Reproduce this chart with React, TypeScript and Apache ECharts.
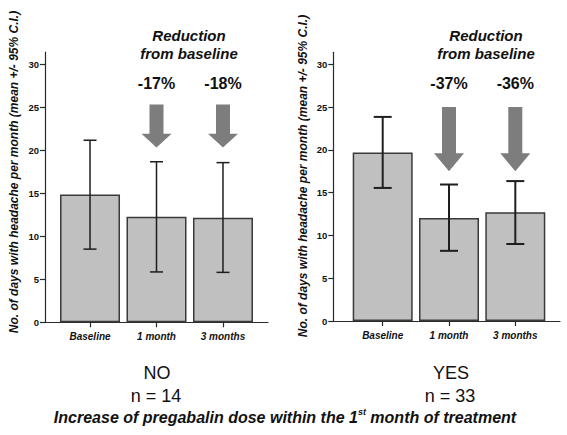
import React, { useEffect, useRef } from "react";
import * as echarts from "echarts";

const categories = ["Baseline", "1 month", "3 months"];
const yTicks = [0, 5, 10, 15, 20, 25, 30];

// Group NO (n = 14)
const meansNo = [14.85, 12.25, 12.15];
const ciLowNo = [8.5, 5.85, 5.8];
const ciHighNo = [21.15, 18.65, 18.55];
const reductionsNo = ["-17%", "-18%"];
// arrows: [category index, shaft top, head base, tip]
const arrowsNo = [
  [1, 25.3, 21.9, 20.3],
  [2, 25.3, 21.9, 20.3],
];

// Group YES (n = 33)
const meansYes = [19.7, 12.05, 12.7];
const ciLowYes = [15.55, 8.2, 9.0];
const ciHighYes = [23.85, 15.95, 16.35];
const reductionsYes = ["-37%", "-36%"];
const arrowsYes = [
  [1, 25.0, 19.6, 17.5],
  [2, 25.0, 19.6, 17.5],
];

const labelLevel = 27.7;
const groupNames = ["NO", "YES"];
const groupN = ["n = 14", "n = 33"];
const yTitle = "No. of days with headache per month (mean +/- 95% C.I.)";

const FONT = "'Liberation Sans', Arial, sans-serif";

export default function App() {
  const ref = useRef<HTMLDivElement>(null);
  useEffect(() => {
    if (!ref.current) return;
    const chart = echarts.init(ref.current, undefined, { renderer: "svg" });

    const xAxisBase = (gridIndex: number, min: number, max: number) => ({
      type: "value",
      gridIndex,
      min,
      max,
      splitLine: { show: false },
      axisLine: { show: true, onZero: false, lineStyle: { color: "#2a2a2a", width: 1.2 } },
      axisTick: { show: true, length: 5, customValues: [0, 1, 2], lineStyle: { color: "#2a2a2a", width: 1.2 } },
      axisLabel: {
        customValues: [0, 1, 2],
        formatter: (v: number) => categories[Math.round(v)] ?? "",
        fontFamily: FONT,
        fontSize: 10,
        fontWeight: "bold",
        fontStyle: "italic",
        color: "#111",
        margin: 9,
      },
    });
    const yAxisBase = (gridIndex: number) => ({
      type: "value",
      gridIndex,
      min: 0,
      max: 31.4,
      interval: 5,
      splitLine: { show: false },
      axisLine: { show: true, onZero: false, lineStyle: { color: "#2a2a2a", width: 1.2 } },
      axisTick: { show: true, length: 5, customValues: yTicks, lineStyle: { color: "#2a2a2a", width: 1.2 } },
      axisLabel: {
        customValues: yTicks,
        fontFamily: FONT,
        fontSize: 9.5,
        fontWeight: "bold",
        color: "#111",
        margin: 6,
      },
    });

    const barSeries = (idx: number, means: number[]) => ({
      type: "bar",
      xAxisIndex: idx,
      yAxisIndex: idx,
      barWidth: 60,
      data: means.map((m, i) => [i, m]),
      itemStyle: { color: "#c0c0c0", borderColor: "#3a3a3a", borderWidth: 1.5 },
      z: 2,
    });

    const errSeries = (idx: number, lo: number[], hi: number[], cap: number, w: number) => ({
      type: "custom",
      xAxisIndex: idx,
      yAxisIndex: idx,
      z: 5,
      data: lo.map((l, i) => [i, l, hi[i]]),
      renderItem: (_p: any, api: any) => {
        const x = api.value(0);
        const a = api.coord([x, api.value(2)]);
        const b = api.coord([x, api.value(1)]);
        const style = { stroke: "#1e1e1e", lineWidth: w };
        return {
          type: "group",
          children: [
            { type: "line", shape: { x1: a[0], y1: a[1], x2: b[0], y2: b[1] }, style },
            { type: "line", shape: { x1: a[0] - cap / 2, y1: a[1], x2: a[0] + cap / 2, y2: a[1] }, style },
            { type: "line", shape: { x1: b[0] - cap / 2, y1: b[1], x2: b[0] + cap / 2, y2: b[1] }, style },
          ],
        };
      },
    });

    const arrowSeries = (idx: number, arrows: number[][], labels: string[]) => ({
      type: "custom",
      xAxisIndex: idx,
      yAxisIndex: idx,
      z: 6,
      data: arrows.map((a) => [...a]),
      renderItem: (p: any, api: any) => {
        const x = api.value(0);
        const top = api.coord([x, api.value(1)]);
        const base = api.coord([x, api.value(2)]);
        const tip = api.coord([x, api.value(3)]);
        const lab = api.coord([x, labelLevel]);
        const sw = 7;
        const hw = 15;
        const cx = top[0];
        return {
          type: "group",
          children: [
            {
              type: "polygon",
              shape: {
                points: [
                  [cx - sw, top[1]],
                  [cx + sw, top[1]],
                  [cx + sw, base[1]],
                  [cx + hw, base[1]],
                  [cx, tip[1]],
                  [cx - hw, base[1]],
                  [cx - sw, base[1]],
                ],
              },
              style: { fill: "#7d7d7d" },
            },
            {
              type: "text",
              x: cx,
              y: lab[1],
              style: {
                text: labels[p.dataIndex],
                fontFamily: FONT,
                fontSize: 16,
                fontWeight: "bold",
                fill: "#111",
                align: "center",
                verticalAlign: "middle",
              },
            },
          ],
        };
      },
    });

    const txt = (x: number, y: number, text: string, extra: any = {}) => ({
      type: "text",
      x,
      y,
      style: {
        text,
        fontFamily: FONT,
        fill: "#111",
        align: "center",
        verticalAlign: "middle",
        ...extra,
      },
    });

    const yTitleText = (x: number, y: number) => ({
      type: "text",
      x,
      y,
      rotation: Math.PI / 2,
      style: {
        text: yTitle,
        fontFamily: FONT,
        fontSize: 12,
        fontWeight: "bold",
        fontStyle: "italic",
        fill: "#111",
        align: "center",
        verticalAlign: "middle",
      },
    });

    const option: any = {
      animation: false,
      backgroundColor: "#ffffff",
      grid: [
        { left: 45, top: 52, width: 223, height: 270.3 },
        { left: 333.3, top: 52.3, width: 226.7, height: 268.7 },
      ],
      xAxis: [xAxisBase(0, -0.677, 2.677), xAxisBase(1, -0.745, 2.674)],
      yAxis: [yAxisBase(0), yAxisBase(1)],
      series: [
        barSeries(0, meansNo),
        barSeries(1, meansYes),
        errSeries(0, ciLowNo, ciHighNo, 13, 1.5),
        errSeries(1, ciLowYes, ciHighYes, 18, 2),
        arrowSeries(0, arrowsNo, reductionsNo),
        arrowSeries(1, arrowsYes, reductionsYes),
      ],
      graphic: [
        txt(189, 44, "Reduction\nfrom baseline", {
          fontSize: 15,
          fontWeight: "bold",
          fontStyle: "italic",
          lineHeight: 18,
        }),
        txt(486, 44, "Reduction\nfrom baseline", {
          fontSize: 15,
          fontWeight: "bold",
          fontStyle: "italic",
          lineHeight: 18,
        }),
        yTitleText(14, 172),
        yTitleText(303, 176),
        txt(157, 373, groupNames[0], { fontSize: 18 }),
        txt(156, 396, groupN[0], { fontSize: 18 }),
        txt(451, 373, groupNames[1], { fontSize: 18 }),
        txt(450, 396, groupN[1], { fontSize: 18 }),
        {
          type: "text",
          x: 285,
          y: 417,
          style: {
            text: "{m|Increase of pregabalin dose within the 1}{s|st}{m| month of treatment}",
            fontFamily: FONT,
            fill: "#111",
            align: "center",
            verticalAlign: "middle",
            rich: {
              m: { fontFamily: FONT, fontSize: 16, fontWeight: "bold", fontStyle: "italic", fill: "#111", lineHeight: 20 },
              s: { fontFamily: FONT, fontSize: 9, fontWeight: "bold", fontStyle: "italic", fill: "#111", lineHeight: 20, verticalAlign: "top", padding: [0, 0, 8, 0] },
            },
          },
        },
      ],
    };

    chart.setOption(option);
    return () => chart.dispose();
  }, []);

  return (
    <div
      ref={ref}
      style={{ position: "absolute", left: 0, top: 0, width: 567, height: 435 }}
    />
  );
}
